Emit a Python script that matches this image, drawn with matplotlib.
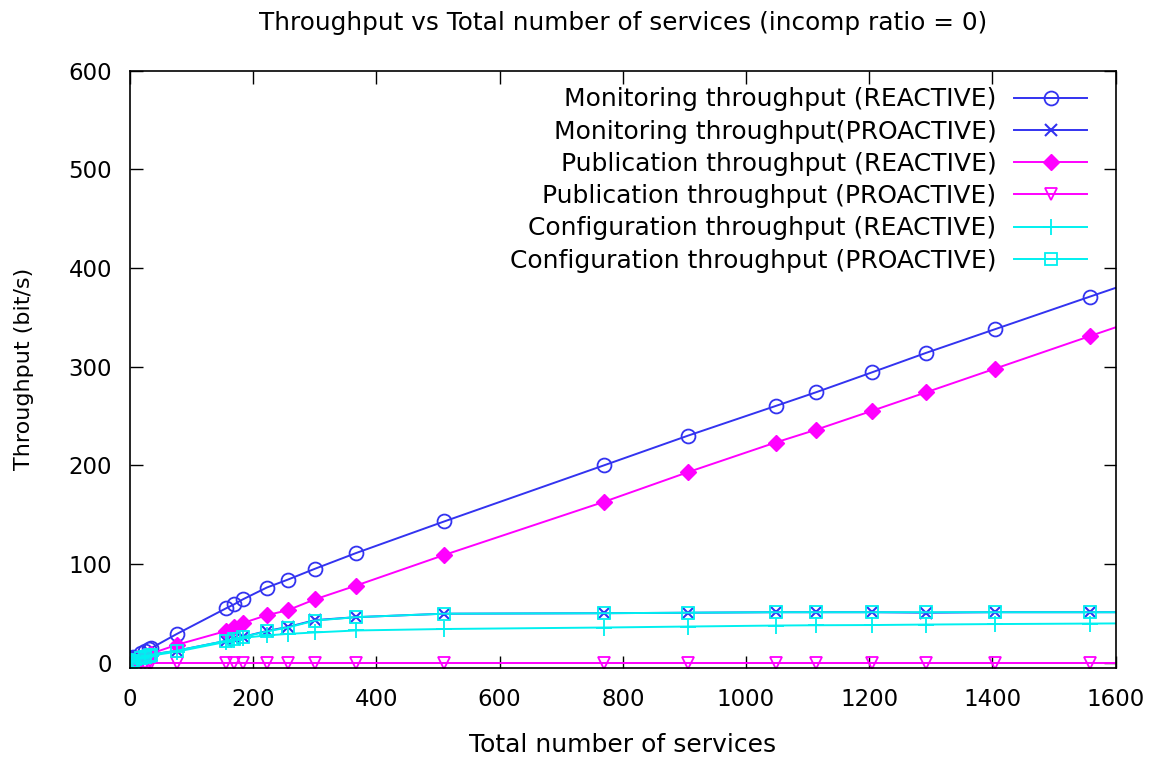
import numpy as np
import matplotlib.pyplot as plt

# total number of services
services = [1, 2, 5, 18, 24, 30, 34, 76, 156, 169, 183, 222, 256, 300, 367,
            510, 770, 906, 1048, 1114, 1204, 1293, 1405, 1559, 1700]

mon_reactive = [4, 4.5, 5.5, 10, 12, 13.5, 14.5, 29, 55, 59, 64, 76, 84, 95, 111,
                143, 200, 230, 260, 274, 294, 314, 338, 371, 401]
mon_proactive = [1, 1.5, 2, 5, 6, 7, 8, 12, 22, 24, 26, 32, 36, 43, 46,
                 49.5, 50, 50.5, 51, 51, 51, 50.5, 51, 51, 51]
pub_reactive = [1, 1.5, 2, 5, 6.5, 8, 9, 18, 32, 36, 40, 48, 53, 64, 78,
                109, 163, 193, 223, 236, 255, 274, 298, 331, 361]
pub_proactive = [0] * len(services)
conf_reactive = [0.8, 1.2, 2, 4.5, 5.5, 6.5, 7, 11, 21, 23, 25, 27.5, 29, 30.5, 32.5,
                 34, 35.5, 36.5, 37.5, 37.8, 38, 38.5, 39, 39.5, 40]
conf_proactive = [1, 1.5, 2, 5, 6, 7, 8, 12, 22, 23.5, 26, 31.5, 35.5, 42.5, 46,
                  49.5, 50, 50.5, 51, 51, 51, 51, 51, 51, 51]

blue = '#3333f0'
magenta = '#ff00ff'
cyan = '#00f0f0'

fig = plt.figure(figsize=(11.58, 7.60), dpi=100)
ax = fig.add_axes([0.1123, 0.1211, 0.851, 0.786])

lw = 1.4
ax.plot(services, mon_reactive, color=blue, lw=lw, marker='o', ms=10,
        mfc='none', mew=1.3, label='Monitoring throughput (REACTIVE)')
ax.plot(services, mon_proactive, color=blue, lw=lw, marker='x', ms=8,
        mew=1.5, label='Monitoring throughput(PROACTIVE)')
ax.plot(services, pub_reactive, color=magenta, lw=lw, marker='D', ms=8,
        label='Publication throughput (REACTIVE)')
ax.plot(services, pub_proactive, color=magenta, lw=lw, marker='v', ms=9,
        mfc='none', mew=1.3, label='Publication throughput (PROACTIVE)')
ax.plot(services, conf_reactive, color=cyan, lw=lw, marker='+', ms=12,
        mew=1.3, label='Configuration throughput (REACTIVE)')
ax.plot(services, conf_proactive, color=cyan, lw=lw, marker='s', ms=8.5,
        mfc='none', mew=1.3, label='Configuration throughput (PROACTIVE)')

ax.set_xlim(0, 1600)
ax.set_ylim(-5.5, 600)
ax.set_xticks(np.arange(0, 1601, 200))
ax.set_yticks(np.arange(0, 601, 100))
ax.tick_params(direction='in', top=True, right=True, length=9, width=1,
               labelsize=16.5)
ax.tick_params(axis='x', pad=14.5)
ax.tick_params(axis='y', pad=13)
for s in ax.spines.values():
    s.set_linewidth(1.2)

ax.set_title('Throughput vs Total number of services (incomp ratio = 0)',
             fontsize=17.8, pad=29)
ax.set_xlabel('Total number of services', fontsize=18, labelpad=15.5)
ax.set_ylabel('Throughput (bit/s)', fontsize=16, labelpad=25)

ax.legend(loc='upper right', bbox_to_anchor=(0.971, 0.972), frameon=False,
          markerfirst=False, fontsize=18, handlelength=2.9, labelspacing=0.33,
          borderaxespad=0, borderpad=0, handletextpad=0.72)

fig.savefig('out.png', dpi=100)
